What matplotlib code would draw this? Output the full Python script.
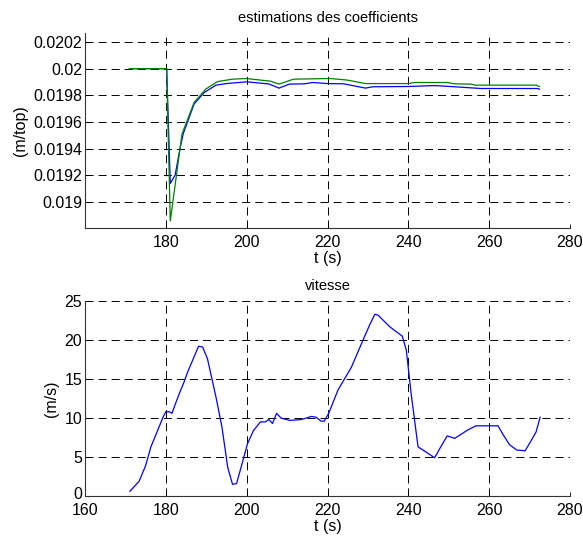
import numpy as np
import matplotlib.pyplot as plt
import matplotlib.transforms as mtransforms

plt.rcParams['font.family'] = ['Liberation Sans', 'DejaVu Sans']
plt.rcParams['font.size'] = 11.5
plt.rcParams['lines.scale_dashes'] = False

# --- estimations des coefficients ---
t_blue = [171, 180.2, 181.1, 182.3, 183.5, 184.3, 187.0, 189.5, 192.4, 195.0, 200.0,
          205.5, 208.0, 210.6, 214.3, 216.3, 220.0, 224.0, 229.4, 231.2, 240.0,
          246.5, 251.4, 258.0, 272.0, 272.4]
v_blue = [0.02, 0.02, 0.019139, 0.019201, 0.0194, 0.019512, 0.019735, 0.019821,
          0.019876, 0.019888, 0.019901, 0.019885, 0.019854, 0.019884, 0.019886,
          0.019896, 0.019888, 0.019886, 0.019854, 0.019864, 0.019866, 0.019873,
          0.019864, 0.019851, 0.019851, 0.019846]

t_green = [171, 180.2, 181.1, 184.0, 187.0, 189.9, 192.8, 196.5, 199.8, 205.9,
           208.0, 211.6, 220.7, 224.9, 229.4, 240.0, 241.5, 249.7, 251.4, 255.5,
           256.7, 271.7, 272.4]
v_green = [0.02, 0.02, 0.018858, 0.01951, 0.019747, 0.019847, 0.019903, 0.019921,
           0.019926, 0.019906, 0.019884, 0.019921, 0.019926, 0.019914, 0.019888,
           0.019888, 0.019896, 0.019896, 0.019886, 0.019884, 0.019876, 0.019876,
           0.019866]

# --- vitesse ---
t_vit = [171.1, 173.4, 175.0, 176.3, 177.5, 179.3, 180.0, 180.9, 181.5, 183.3,
         184.5, 185.4, 188.1, 189.1, 190.3, 192.4, 193.9, 195.3, 196.5, 197.5,
         199.0, 200.2, 201.7, 203.4, 204.6, 205.5, 206.4, 207.4, 208.5, 210.6,
         213.5, 216.0, 217.2, 218.4, 219.2, 220.3, 222.6, 225.9, 228.8, 230.4,
         231.7, 232.5, 235.4, 238.5, 239.5, 240.7, 242.4, 244.5, 246.5, 247.8,
         249.6, 251.5, 254.8, 256.0, 256.7, 262.2, 263.3, 265.0, 266.8, 268.9,
         270.5, 271.6, 272.6]
v_vit = [0.6, 1.9, 3.9, 6.3, 7.8, 10.1, 10.8, 10.8, 10.6, 13.1,
         14.6, 15.9, 19.2, 19.1, 17.6, 12.7, 8.8, 3.7, 1.5, 1.6,
         4.4, 6.7, 8.4, 9.5, 9.5, 9.8, 9.3, 10.6, 10.0, 9.7,
         9.8, 10.2, 10.1, 9.6, 9.6, 10.6, 13.6, 16.5, 20.0, 21.9,
         23.3, 23.2, 21.7, 20.5, 18.7, 13.1, 6.3, 5.6, 4.9, 6.1,
         7.7, 7.4, 8.5, 8.8, 9.0, 9.0, 8.0, 6.6, 5.9, 5.8,
         7.2, 8.2, 10.1]

top_yticks = [0.019, 0.0192, 0.0194, 0.0196, 0.0198, 0.02, 0.0202]
top_ylabels = ['0.019', '0.0192', '0.0194', '0.0196', '0.0198', '0.02', '0.0202']

fig = plt.figure(figsize=(5.83, 5.36), dpi=100)
ax1 = fig.add_axes([0.1458, 0.5746, 0.8319, 0.3638])
ax2 = fig.add_axes([0.1458, 0.0746, 0.8319, 0.3638])

grid_style = dict(color='black', linestyle=(0, (5.8, 3.6)), linewidth=0.7)

for ax in (ax1, ax2):
    ax.spines['top'].set_visible(False)
    ax.spines['right'].set_visible(False)
    for s in ('left', 'bottom'):
        ax.spines[s].set_linewidth(0.8)
        ax.spines[s].set_color('#333333')
    ax.tick_params(direction='in', length=3, width=0.6, pad=2)
    ax.tick_params(axis='x', pad=5)
    ax.grid(True, **grid_style)
    ax.set_axisbelow(True)

ax1.plot(t_blue, v_blue, color='blue', lw=0.9)
ax1.plot(t_green, v_green, color='#008000', lw=0.9)
ax1.set_xlim(160, 280)
ax1.set_xticks([180, 200, 220, 240, 260, 280])
ax1.set_ylim(0.018805, 0.020267)
ax1.set_yticks(top_yticks)
ax1.set_yticklabels(top_ylabels)
ax1.set_title('estimations des coefficients', fontsize=10.5, pad=8)
ax1.set_xlabel('t (s)', labelpad=1)
ax1.set_ylabel('(m/top)', labelpad=4)

ax2.plot(t_vit, v_vit, color='blue', lw=0.9)
ax2.set_xlim(160, 280)
ax2.set_xticks([160, 180, 200, 220, 240, 260, 280])
ax2.set_ylim(0, 25)
ax2.set_yticks([0, 5, 10, 15, 20, 25])
ax2.set_title('vitesse', fontsize=10.5, pad=8)
ax2.set_xlabel('t (s)', labelpad=1)
ax2.set_ylabel('(m/s)', labelpad=4)

# nudge the "0" label up a touch so it clears "160"
lbl0 = ax2.get_yticklabels()[0]
lbl0.set_transform(lbl0.get_transform() + mtransforms.ScaledTranslation(0, 2 / 72, fig.dpi_scale_trans))

fig.savefig('out.png', dpi=100)
